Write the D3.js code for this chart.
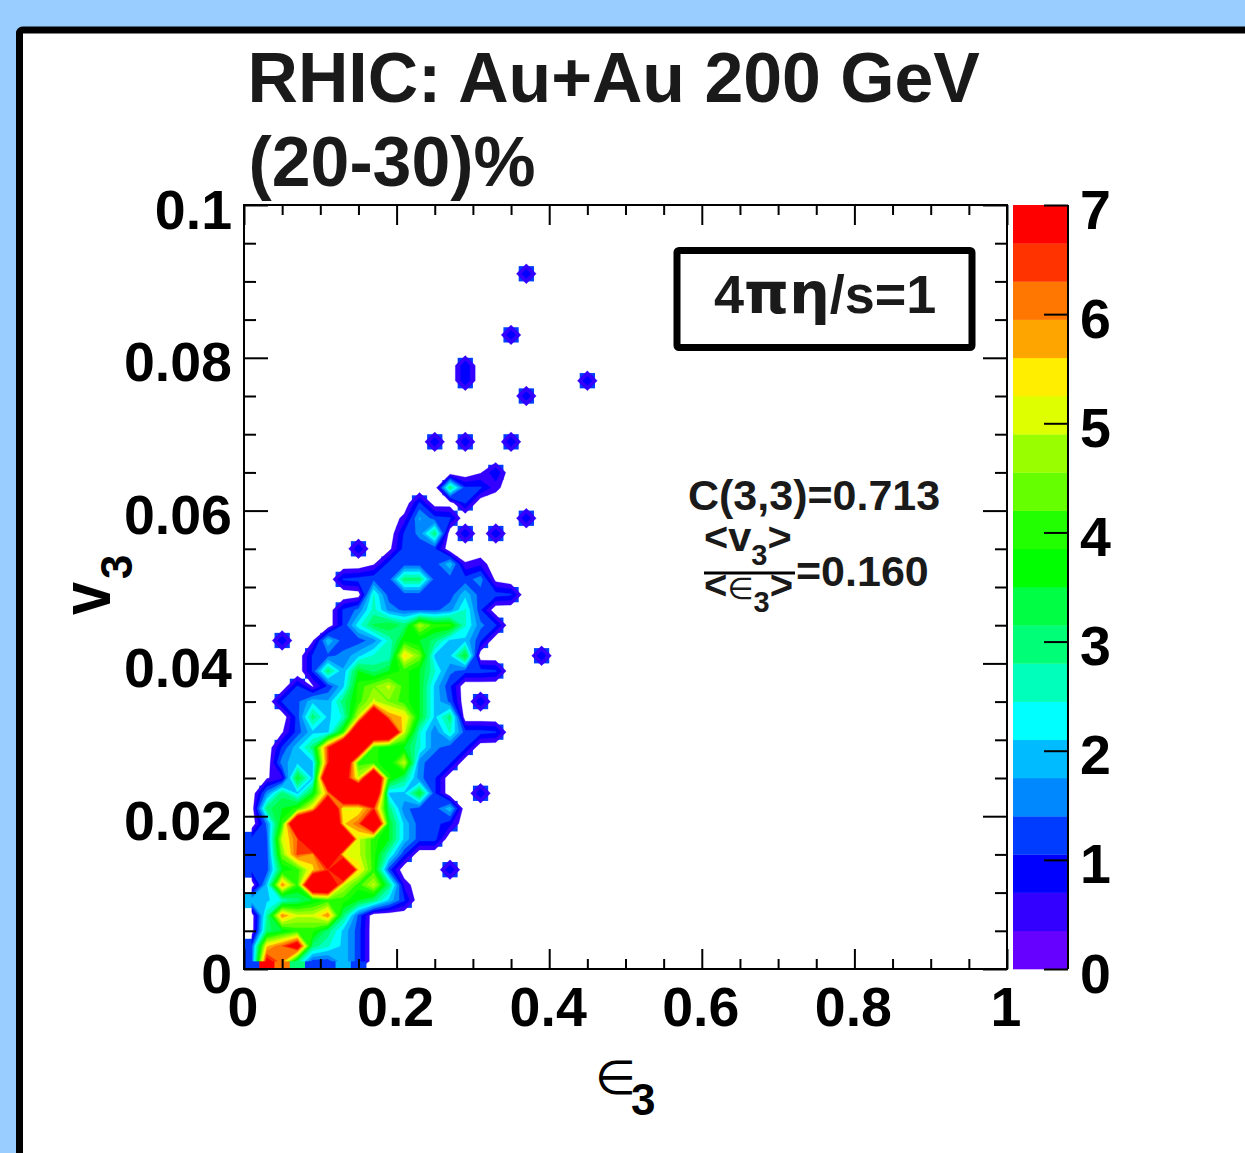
<!DOCTYPE html>
<html><head><meta charset="utf-8">
<style>html,body{margin:0;padding:0;background:#99ccff;overflow:hidden}svg{display:block}text{font-family:"Liberation Sans",Arial,sans-serif;font-weight:bold}</style>
<script src="https://cdn.jsdelivr.net/npm/d3@7/dist/d3.min.js"></script>
</head><body>
<script>
// Bin layout of the 2-D histogram
const binCount = 50;
// First column of each row (rows run upward from v3 = 0)
const rowStartCol = [0,0,0,0,0,0,0,0,0,0,0,0,0,0,0,0,0,0,0,0,0,0,6,6,7,6,8,7,10,10,11,13,15,0,12,0,0,18,14,14,0,17,0,0,0,18];
// Counts per bin
const rowCounts = [
 [1.2,7,6,3,1.2,1.2,2,1.2],
 [1.2,5.5,6.3,7.5,3,2.5,2,1.2],
 [0,3,3.5,4,4,3,2,1.2],
 [0,2.7,6,5,5,6,3,1.3],
 [2,2,2.5,3,3.5,4,4,3.5,3,2,1.1],
 [0,2,6,4,9.5,9.5,5,4,5,3,0.6],
 [1.2,1.2,3.5,4,5.5,6.5,11,5.5,4,1.2,0,0,0,1],
 [1.2,1.2,4.5,6.4,5.8,11,5.3,5,4,2.5,1.1],
 [1.2,1.3,5,6.3,11,11,11,5,4,3.5,2,1.2,1.2],
 [0,1.5,4,9.5,11,11,5.5,6.2,9.5,3.5,2,1.2,1.2,0.8],
 [0,3,3.5,4,5.5,9.5,5.2,5.2,6.5,3,1.5,1.2,1.2,2],
 [0,1.6,3,2,3.5,6,9.5,9.5,9.5,2,2,3.5,1.1,0,0,1],
 [0,0.3,0.6,3.5,2,9.5,7.5,5,9.5,4,3,1.5,1.1],
 [0,0,1.6,2,2,6.5,9,4,4,3.5,5,1.5,1.2,1.1],
 [0,0,1.1,2,3,6.5,9.5,9.5,4,3.5,3.5,2.5,1.5,1.2,1.1],
 [0,0,0.3,1.2,2,2,4,9.5,9.5,9.5,5,2.5,1.5,2.5,1.2,1.2,1.1],
 [0,0,0,1.2,3,2,2.5,5,9.5,6,5.5,3.5,2,3],
 [0,0,1.1,1.3,2,1.8,3,4,5,4.5,4,3.5,2,1.3,0,1],
 [0,0,0,1.1,0.3,1.1,2,4,4.5,5,4,3.5,2,1.1],
 [0,0,0,0,1.1,3,1.8,3.5,3,3.5,4,3.5,2.5,1.5,1.2,1.2,1.1],
 [0,0,0,0,1.1,1.3,1.5,2,2.5,2.5,5.5,4.5,2,2,3.5,0,0,0,0,1],
 [0,0,1,0,0.3,2,1.2,1.2,1.6,2.5,3.8,3.5,3,2,2,1.1],
 [1.1,2.3,3.2,3.5,3,4.8,4,4,2.5,1.5,1.1],
 [1.1,1.5,2.6,1.6,1.3,1.3,1.3,1.6,2.5,1.1],
 [0.1,2.5,1.2,1.2,1.2,1.2,1.2,2,1.2,1.2,1.1],
 [1.1,1.2,1.3,1.2,3,3,1.2,1.2,1.2,1.6,0.2],
 [0.3,1.2,1.2,1.2,1.2,2,0.4,0.6],
 [1,0,0.2,1.2,1.2,1.1],
 [1.1,1.5,3,0,1,0,1],
 [0.5,1.8,1.2,1.1,0,0,0,0,1],
 [1.1,0.1,0.1,1.1],
 [3,1.1,1.1,0.5],
 [0.3,1],
 [],
 [1,0,1,0,0,1],
 [],[],
 [1],
 [1,0,0,0,0,0,0,0,1],
 [1],
 [],
 [1],
 [],[],[],
 [1]
];
const paletteColors = ["#6600ff","#3300ff","#0000ff","#003cff","#0088ff","#00bbff","#00ffff","#00ffbb","#00ff77","#00ff44","#00ff00","#22ff00","#66ff00","#99ff00","#ddff00","#ffee00","#ffa500","#ff7700","#ff3300","#ff0000"];
const zMax = 7;
const xMajorTicks = [0,0.2,0.4,0.6,0.8,1];
const yMajorTicks = [0,0.02,0.04,0.06,0.08,0.1];
const zMajorTicks = [0,1,2,3,4,5,6,7];

const W=1245,H=1153;
const L=244,R=1007,T=205,B=969;
const svg=d3.select("body").append("svg").attr("width",W).attr("height",H);
svg.append("rect").attr("x",19.5).attr("y",30).attr("width",1400).attr("height",1400).attr("rx",3).attr("fill","#fff").attr("stroke","#000").attr("stroke-width",7);

const x=d3.scaleLinear().domain([0,1]).range([L,R]);
const y=d3.scaleLinear().domain([0,0.1]).range([B,T]);
const gx=d3.scaleLinear().domain([0,binCount]).range([L,R]);
const gy=d3.scaleLinear().domain([0,binCount]).range([B,T]);
const bandWidth=zMax/paletteColors.length;
const thresholds=d3.range(1,paletteColors.length).map(i=>i*bandWidth);
const colorOf=v=>paletteColors[Math.min(paletteColors.length-1,Math.floor(v/bandWidth))];

// grid
const grid=new Array(binCount*binCount).fill(0);
rowCounts.forEach((row,j)=>row.forEach((v,k)=>{grid[j*binCount+rowStartCol[j]+k]=v;}));

const plot=svg.append("g");
// squares beneath the contour fill, one per occupied bin
const cells=[];
grid.forEach((v,idx)=>{if(v>=0.7)cells.push({i:idx%binCount,j:Math.floor(idx/binCount),v});});
plot.selectAll("rect.cell").data(cells).join("rect").attr("class","cell")
 .attr("x",d=>gx(d.i+0.001)).attr("y",d=>gy(d.j+1)).attr("width",d=>gx(d.i+1)-gx(d.i)).attr("height",d=>gy(d.j)-gy(d.j+1))
 .attr("fill",paletteColors[3]);
const contours=d3.contours().size([binCount,binCount]).thresholds(thresholds)(grid);
const proj=d3.geoTransform({point(px,py){this.stream.point(gx(px),gy(py));}});
const path=d3.geoPath(proj);
plot.selectAll("path").data(contours).join("path").attr("d",path)
 .attr("fill",d=>colorOf(d.value+1e-6)).attr("stroke",d=>colorOf(d.value+1e-6)).attr("stroke-width",0.3);
// half-bin flat edge strips
const halfX=(gx(1)-gx(0))/2, halfY=(gy(0)-gy(1))/2;
plot.selectAll("rect.bottom").data(rowCounts[0]).join("rect").attr("class","bottom")
 .attr("x",(d,i)=>gx(i)).attr("y",B-halfY).attr("width",gx(1)-gx(0)+0.3).attr("height",halfY).attr("fill",d=>colorOf(d));
plot.selectAll("rect.left").data(rowCounts.slice(0,10).map(r=>r[0])).join("rect").attr("class","left")
 .attr("x",L).attr("y",(d,j)=>gy(j+1)).attr("width",halfX).attr("height",gy(0)-gy(1)+0.3)
 .attr("fill",d=>d>0?colorOf(d):"#fff");

// axes
function styleAxis(g){g.select(".domain").remove();g.selectAll("line").attr("stroke","#000").attr("stroke-width",2);}
const lab=55.5;
const xMinor=d3.range(0,21).map(i=>i*0.05).filter(v=>!xMajorTicks.some(m=>Math.abs(m-v)<1e-9));
const yMinor=d3.range(0,21).map(i=>i*0.005).filter(v=>!yMajorTicks.some(m=>Math.abs(m-v)<1e-9));
const ax=svg.append("g");
ax.append("g").attr("transform",`translate(0,${B})`).call(d3.axisBottom(x).tickValues(xMinor).tickSize(-10).tickFormat("")).call(styleAxis);
ax.append("g").attr("transform",`translate(0,${T})`).call(d3.axisTop(x).tickValues(xMinor).tickSize(-10).tickFormat("")).call(styleAxis);
ax.append("g").attr("transform",`translate(0,${T})`).call(d3.axisTop(x).tickValues(xMajorTicks).tickSize(-20).tickFormat("")).call(styleAxis);
ax.append("g").attr("transform",`translate(${L},0)`).call(d3.axisLeft(y).tickValues(yMinor).tickSize(-12).tickFormat("")).call(styleAxis);
ax.append("g").attr("transform",`translate(${R},0)`).call(d3.axisRight(y).tickValues(yMinor).tickSize(-12).tickFormat("")).call(styleAxis);
ax.append("g").attr("transform",`translate(${R},0)`).call(d3.axisRight(y).tickValues(yMajorTicks).tickSize(-24).tickFormat("")).call(styleAxis);
const xa=ax.append("g").attr("transform",`translate(0,${B})`).call(d3.axisBottom(x).tickValues(xMajorTicks).tickSize(-20).tickFormat(d3.format("~g"))).call(styleAxis);
xa.selectAll("text").attr("x",-1.5).attr("y",57).attr("dy",0).attr("font-size",lab).attr("fill","#000").style("font-family",'"Liberation Sans"').style("font-weight","bold");
const ya=ax.append("g").attr("transform",`translate(${L},0)`).call(d3.axisLeft(y).tickValues(yMajorTicks).tickSize(-24).tickFormat(d3.format("~g"))).call(styleAxis);
ya.selectAll("text").attr("x",-12).attr("dy",23).attr("font-size",lab).attr("fill","#000").style("font-family",'"Liberation Sans"').style("font-weight","bold");
svg.append("rect").attr("x",L).attr("y",T).attr("width",R-L).attr("height",B-T).attr("fill","none").attr("stroke","#000").attr("stroke-width",2);

// colour bar
const z=d3.scaleLinear().domain([0,zMax]).range([B,T]);
const bx0=1013,bx1=1068;
svg.append("g").selectAll("rect").data(paletteColors).join("rect")
 .attr("x",bx0).attr("width",bx1-bx0)
 .attr("y",(d,i)=>z((i+1)*bandWidth)).attr("height",(d,i)=>z(i*bandWidth)-z((i+1)*bandWidth)+0.3)
 .attr("fill",d=>d);
const za=svg.append("g").attr("transform",`translate(${bx1},0)`).call(d3.axisRight(z).tickValues(zMajorTicks).tickSize(-24).tickFormat(d3.format("d")));
za.selectAll("line").attr("stroke","#000").attr("stroke-width",2);
za.select(".domain").attr("stroke","#000").attr("stroke-width",2).attr("d",`M0,${T}V${B}`);
za.selectAll("text").attr("x",12).attr("dy",23).attr("font-size",lab).attr("fill","#000").attr("text-anchor","start").style("font-family",'"Liberation Sans"').style("font-weight","bold");

// title
const titleColor="#1a1a1a";
svg.append("text").attr("x",247.5).attr("y",102).attr("font-size",69.8).attr("fill",titleColor).text("RHIC: Au+Au 200 GeV");
svg.append("text").attr("x",248.5).attr("y",186).attr("font-size",69.8).attr("fill",titleColor).text("(20-30)%");

// box
svg.append("rect").attr("x",677).attr("y",250.5).attr("width",295).attr("height",97).attr("rx",2).attr("fill","#fff").attr("stroke","#000").attr("stroke-width",7);
const bt=svg.append("text").attr("x",714).attr("y",313).attr("font-size",54).attr("fill",titleColor);
bt.append("tspan").text("4");
bt.append("tspan").style("font-family",'"DejaVu Sans"').attr("font-size",57).text("πη");
bt.append("tspan").text("/s=1");

// annotation
svg.append("text").attr("x",688).attr("y",510).attr("font-size",43).attr("fill",titleColor).text("C(3,3)=0.713");
const num=svg.append("text").attr("x",704).attr("y",551).attr("font-size",41.5).attr("fill",titleColor);
num.append("tspan").text("<v");
num.append("tspan").attr("dy",14).attr("font-size",29).text("3");
num.append("tspan").attr("dy",-14).text(">");
svg.append("line").attr("x1",704).attr("x2",795).attr("y1",573).attr("y2",573).attr("stroke","#000").attr("stroke-width",3);
svg.append("text").attr("x",796).attr("y",586).attr("font-size",43).attr("fill",titleColor).text("=0.160");
const den=svg.append("text").attr("x",704).attr("y",599).attr("font-size",40).attr("fill",titleColor);
den.append("tspan").text("<");
den.append("tspan").style("font-family",'"DejaVu Sans"').style("font-weight","normal").attr("font-size",30).text("∈");
den.append("tspan").attr("dy",13).attr("font-size",29).text("3");
den.append("tspan").attr("dy",-13).text(">");

// axis titles
const xt=svg.append("text").attr("x",595).attr("y",1094).attr("fill","#000");
xt.append("tspan").style("font-family",'"DejaVu Sans"').style("font-weight","normal").attr("font-size",47).text("∈");
svg.append("text").attr("x",631).attr("y",1115).attr("font-size",44).attr("fill","#000").text("3");
svg.append("text").attr("transform","translate(110,615) rotate(-90) scale(0.85,1)").attr("font-size",70).attr("fill","#000").text("v");
svg.append("text").attr("transform","translate(132,579) rotate(-90)").attr("font-size",44).attr("fill","#000").text("3");
</script>
</body></html>
